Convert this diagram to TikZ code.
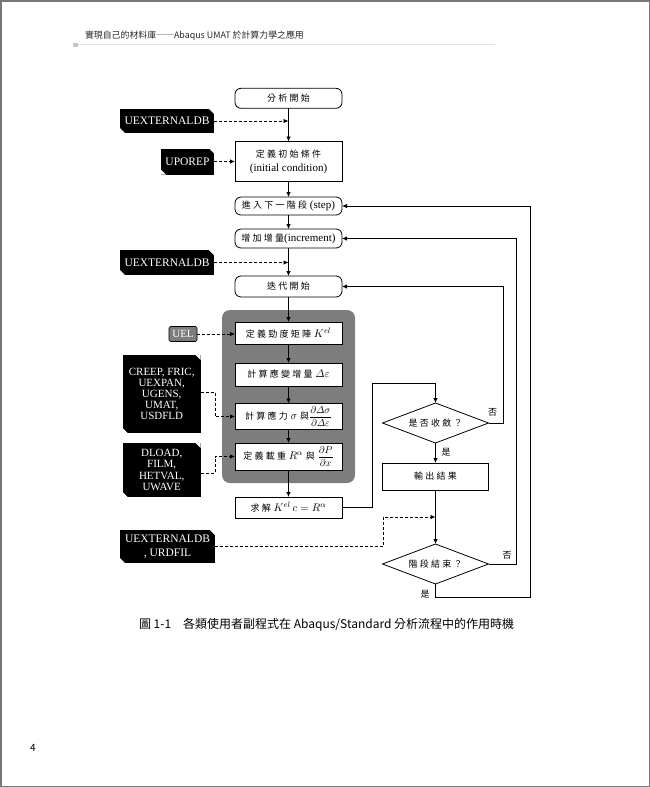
\documentclass[tikz,border=0pt]{standalone}
\usepackage{amsmath}
\usepackage{fontspec}
\setmainfont{Liberation Serif}
\newfontfamily\cjk[LetterSpace=25]{Noto Sans CJK TC}
\newfontfamily\cjksans{Noto Sans CJK TC}
\usetikzlibrary{arrows.meta,shapes.geometric}
\newcommand\zh[1]{{\cjk\fontsize{9}{10}\selectfont #1}}
\definecolor{blockgray}{RGB}{125,125,125}
\definecolor{pageedge}{RGB}{120,120,120}
\begin{document}
\begin{tikzpicture}[x=1pt,y=-1pt,
  every node/.style={inner sep=0pt, outer sep=0pt},
  box/.style={draw, line width=0.8pt, fill=white, minimum width=107pt, align=center, font=\fontsize{11}{13}\selectfont},
  rbox/.style={box, rounded corners=6pt},
  tag/.style={fill=black, text=white, align=center, font=\fontsize{11}{11.2}\selectfont,
    path picture={
      \fill[white] (path picture bounding box.north east) -- ++(-5pt,0pt) -- ++(5pt,-5pt) -- cycle;
      \fill[white] (path picture bounding box.south west) -- ++(5pt,0pt) -- ++(-5pt,5pt) -- cycle;}},
  dia/.style={draw, line width=0.8pt, fill=white, diamond, aspect=2.65, minimum width=106pt, minimum height=40pt},
  arr/.style={line width=0.8pt, -{Latex[length=5pt,width=4.5pt]}},
  darr/.style={arr, dash pattern=on 3pt off 2pt},
  ansr/.style={font=\cjk\fontsize{9}{10}\selectfont}]
\useasboundingbox (0,0) rectangle (650,787);
% page frame
\draw[pageedge, line width=1.5pt] (0.75,0.75) rectangle (649.25,786.25);
% header
\fill[gray!45] (72.7,42.7) rectangle (78.3,47.3);
\draw[gray!22, line width=1.2pt] (78.3,44.5) -- (495,44.5);
\node[anchor=west, font=\cjksans\fontsize{8.9}{10}\selectfont, text=black!85] (hdr) at (85,36) {實現自己的材料庫──Abaqus UMAT 於計算力學之應用};

% main column
\node[rbox, minimum height=20pt] (start) at (288.5,98.3) {\zh{分析開始}};
\node[box, minimum height=40pt] (init) at (288.5,161.5) {\zh{定義初始條件}\\[1pt](initial condition)};
\node[rbox, minimum height=18pt] (step) at (288.5,206) {\zh{進入下一階段} (step)};
\node[rbox, minimum height=19pt] (inc) at (288.5,238.5) {\zh{增加增量}(increment)};
\node[rbox, minimum height=21pt] (iter) at (288.5,286.5) {\zh{迭代開始}};
\node[fill=blockgray, rounded corners=8pt, minimum width=133pt, minimum height=173pt] (blk) at (288.5,396.5) {};
\node[box, minimum height=22pt] (kel) at (288.5,333) {\zh{定義勁度矩陣} $K^{el}$};
\node[box, minimum height=23pt] (strain) at (288.5,374.5) {\zh{計算應變增量} $\varDelta\varepsilon$};
\node[box, minimum height=26pt] (stress) at (288.5,416.5) {\zh{計算應力} $\sigma$ \zh{與}{\fontsize{10}{12}\selectfont$\dfrac{\partial\varDelta\sigma}{\partial\varDelta\varepsilon}$}};
\node[box, minimum height=27pt] (load) at (288.5,456.5) {\zh{定義載重} $R^{\alpha}$ \zh{與} {\fontsize{10}{12}\selectfont$\dfrac{\partial P}{\partial x}$}};
\node[box, minimum height=21pt] (solve) at (288.5,507.5) {\zh{求解} $K^{el}\,c=R^{\alpha}$};

% right column
\node[dia] (conv) at (435.5,423) {\zh{是否收斂？}};
\node[box, minimum width=105.5pt, minimum height=27pt] (out) at (435.5,476.5) {\zh{輸出結果}};
\node[dia] (stend) at (435.5,564) {\zh{階段結束？}};

% user subroutine tags
\node[tag, minimum width=94pt, minimum height=24pt, font=\fontsize{11.5}{12}\selectfont] (t1) at (167,121) {UEXTERNALDB};
\node[tag, minimum width=53pt, minimum height=26pt, font=\fontsize{11.5}{12}\selectfont] (t2) at (187.5,161.5) {UPOREP};
\node[tag, minimum width=94pt, minimum height=25pt, font=\fontsize{11.5}{12}\selectfont] (t3) at (167,262.5) {UEXTERNALDB};
\node[draw=black, line width=0.6pt, fill=blockgray, text=white, rounded corners=1.5pt, minimum width=28pt, minimum height=15pt, font=\fontsize{11}{12}\selectfont] (uel) at (183,334) {UEL};
\node[tag, minimum width=78pt, minimum height=78pt] (t4) at (161.7,394) {CREEP, FRIC,\\UEXPAN,\\UGENS,\\UMAT,\\USDFLD};
\node[tag, minimum width=78pt, minimum height=54pt] (t5) at (161.7,470) {DLOAD,\\FILM,\\HETVAL,\\UWAVE};
\node[tag, minimum width=95pt, minimum height=33pt, font=\fontsize{11.5}{14}\selectfont] (t6) at (167.5,546.7) {UEXTERNALDB\\, URDFIL};

% helper coordinates
\coordinate (j1) at (288.5,121);
\coordinate (j2) at (288.5,262.5);
\coordinate (dx4) at (215,416.5);
\coordinate (dx5) at (215,456.5);
\coordinate (s1) at (372,383);
\coordinate (d6) at (383,517);
\coordinate (j3) at (435.5,517);
\coordinate (l1) at (503.3,0);
\coordinate (l2) at (516.7,0);
\coordinate (l3) at (530.3,0);
\coordinate (b1) at (435.5,597.3);

% main connectors
\draw[arr] (start) -- (init);
\draw[arr] (init) -- (step);
\draw[arr] (step) -- (inc);
\draw[arr] (inc) -- (iter);
\draw[arr] (iter) -- (kel);
\draw[arr] (kel) -- (strain);
\draw[arr] (strain) -- (stress);
\draw[arr] (stress) -- (load);
\draw[arr] (load) -- (solve);
\draw[arr] (solve.east) -| (s1) -| (conv.north);
\draw[arr] (conv.south) -- (out.north);
\draw[arr] (out.south) -- (stend.north);
\draw[arr] (conv.east) -| (l1 |- iter.east) -- (iter.east);
\draw[arr] (stend.east) -| (l2 |- inc.east) -- (inc.east);
\draw[arr] (stend.south) -- (b1) -| (l3 |- step.east) -- (step.east);

% dashed connectors
\draw[darr] (t1.east) -- (j1);
\draw[darr] (t2.east) -- (init.west);
\draw[darr] (t3.east) -- (j2);
\draw[darr] (uel.east) -- (uel.east -| kel.west);
\draw[darr] ([yshift=2pt]t4.east) -| (dx4) -- (stress.west);
\draw[darr] ([yshift=-3pt]t5.east) -| (dx5) -- (load.west);
\draw[darr] (t6.east) -| (d6) -- (j3);

% answer labels
\node[ansr] (n1) at (492.5,412) {否};
\node[ansr] (y1) at (446,452.5) {是};
\node[ansr] (n2) at (507,555) {否};
\node[ansr] (y2) at (425,594.5) {是};

% caption and page number
\node[anchor=west, font=\cjksans\fontsize{12}{14}\selectfont] (cap) at (139,625) {圖 1-1　各類使用者副程式在 Abaqus/Standard 分析流程中的作用時機};
\node[font=\cjksans\fontsize{10}{12}\selectfont] (pg) at (33,747.7) {4};
\end{tikzpicture}
\end{document}
